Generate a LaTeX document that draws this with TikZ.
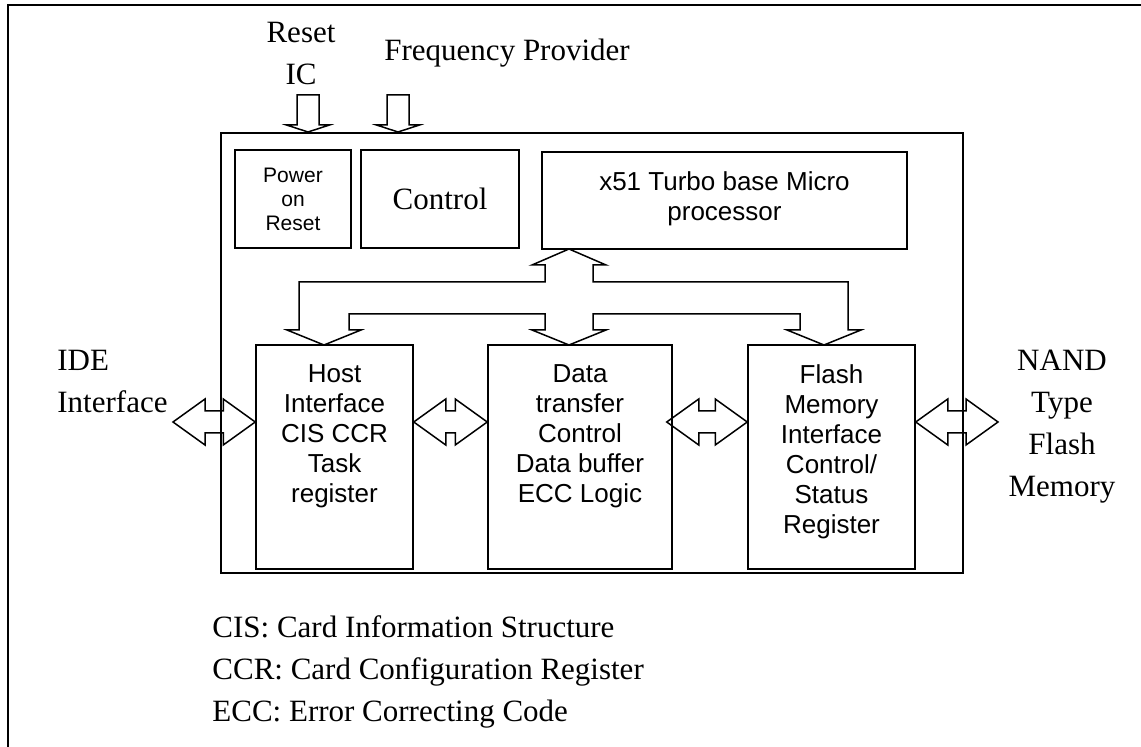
\documentclass[tikz,border=0pt]{standalone}
\usepackage{fontspec}
\setmainfont{Liberation Serif}
\setsansfont{Liberation Sans}
\usetikzlibrary{calc,positioning}

% left-right block arrow between two points (same height)
\newcommand{\dblarrow}[2]{%
  \draw[barrow] let \p1 = #1, \p2 = #2 in
    (\x1,\y1) -- (\x1+16pt,\y1+11.5pt) -- (\x1+16pt,\y1+5.5pt)
    -- (\x2-16pt,\y1+5.5pt) -- (\x2-16pt,\y1+11.5pt) -- (\x2,\y1)
    -- (\x2-16pt,\y1-11.5pt) -- (\x2-16pt,\y1-5.5pt)
    -- (\x1+16pt,\y1-5.5pt) -- (\x1+16pt,\y1-11.5pt) -- cycle;}
% downward input arrow ending at a point
\newcommand{\inarrow}[1]{%
  \draw[barrow] let \p1 = #1 in
    (\x1,\y1) -- (\x1-10.75pt,\y1+3.5pt) -- (\x1-5.5pt,\y1+3.5pt)
    -- (\x1-5.5pt,\y1+18.5pt) -- (\x1+5.5pt,\y1+18.5pt)
    -- (\x1+5.5pt,\y1+3.5pt) -- (\x1+10.75pt,\y1+3.5pt) -- cycle;}

\begin{document}
\begin{tikzpicture}[x=0.5pt, y=-0.5pt,
    box/.style={draw, line width=0.75pt, inner sep=0pt},
    sans/.style={font=\sffamily\fontsize{13}{15}\selectfont, align=center, inner sep=0pt},
    serif/.style={font=\fontsize{15.5}{21}\selectfont, inner sep=0pt},
    barrow/.style={draw, line width=0.75pt, line join=miter}]
    \useasboundingbox (0,0) rectangle (1141,747);
    \draw[line width=1pt] (8,747) -- (8,5) -- (1141,5);

    % chip and its blocks
    \node[box, line width=1pt, minimum width=371pt, minimum height=220pt] at (592,353) (main) {};
    \node[box, minimum width=58pt, minimum height=49pt, align=center,
          font=\sffamily\fontsize{10.5}{12}\selectfont] at (293,199) (por) {Power\\on\\Reset};
    \node[box, minimum width=79pt, minimum height=49pt, serif] at (440,199) (ctrl) {Control};
    \node[box, minimum width=182.5pt, minimum height=48.5pt] at (724.5,200.5) (cpu) {};
    \node[sans, below=10pt of cpu.north] (cputxt) {x51 Turbo base Micro\\processor};

    \node[box, minimum width=78.5pt, minimum height=112pt] at (334.5,457) (host) {};
    \node[box, minimum width=92pt, minimum height=112pt] at (580,457) (data) {};
    \node[box, minimum width=83.5pt, minimum height=112pt] at (831.5,457) (flash) {};
    \node[sans, below=10pt of host.north] (hosttxt) {Host\\Interface\\CIS CCR\\Task\\register};
    \node[sans, below=10pt of data.north] (datatxt) {Data\\transfer\\Control\\Data buffer\\ECC Logic};
    \node[sans, below=10pt of flash.north] (flashtxt) {Flash\\Memory\\Interface\\Control/\\Status\\Register};

    % outside labels
    \node[serif, align=center, anchor=north] at (301,21.5) (rstic) {Reset\\IC};
    \node[serif, anchor=base west] at (384,61) (freq) {Frequency Provider};
    \node[serif, align=left, anchor=north west] at (57,350) (ide) {IDE\\Interface};
    \node[serif, align=center, anchor=north] at (1062,350) (nand) {NAND\\Type\\Flash\\Memory};
    \node[serif, align=left, anchor=north west] at (212,615.5) (legend)
        {CIS: Card Information Structure\\CCR: Card Configuration Register\\ECC: Error Correcting Code};

    % inputs on top
    \coordinate (rstin) at (308,0);
    \coordinate (frqin) at (398,0);
    \inarrow{(rstin |- main.north)}
    \inarrow{(frqin |- main.north)}

    % data paths
    \coordinate (ideend) at (173,422);
    \coordinate (nandend) at (998,422);
    \coordinate (dfl) at ([xshift=-3pt]data.east);
    \dblarrow{(ideend)}{(host.west |- ideend)}
    \dblarrow{(host.east |- ideend)}{(data.west |- ideend)}
    \dblarrow{(dfl |- ideend)}{(flash.west |- ideend)}
    \dblarrow{(flash.east |- ideend)}{(nandend)}

    % internal bus
    \draw[barrow] (545,282) -- (299,282) -- (299,330) -- (287,330) -- (324,345) -- (361,330)
        -- (349,330) -- (349,314) -- (545,314) -- (545,330) -- (532,330) -- (569,345)
        -- (606,330) -- (593,330) -- (593,314) -- (800,314) -- (800,330) -- (787,330)
        -- (824,345) -- (861,330) -- (848,330) -- (848,282) -- (593,282) -- (593,265)
        -- (606,265) -- (569,249) -- (532,265) -- (545,265) -- cycle;
\end{tikzpicture}
\end{document}
